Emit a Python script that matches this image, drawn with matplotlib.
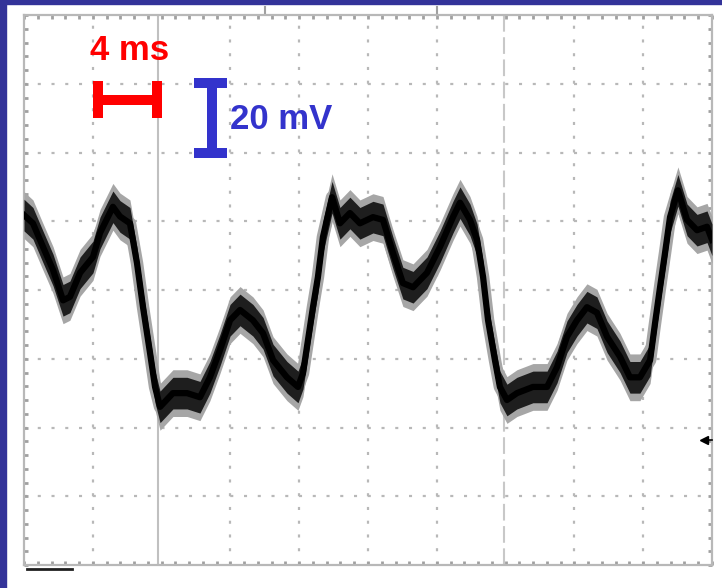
import matplotlib
matplotlib.use("Agg")
import matplotlib.pyplot as plt
from matplotlib.patches import Rectangle

plt.rcParams['lines.scale_dashes'] = False

# ---- data (time in ms, amplitude in screen divisions) ----
t_ms = [0.0, 0.52, 1.10, 1.69, 2.27, 2.67, 3.26, 4.01, 4.42, 5.17, 5.58, 6.16,
        6.57, 6.92, 7.33, 7.62, 7.91, 8.66, 9.48, 10.23, 10.81, 11.40, 11.98,
        12.56, 13.31, 13.90, 14.48, 15.29, 15.93, 16.22, 16.51, 16.80, 17.09,
        17.38, 17.91, 18.37, 18.95, 19.53, 20.29, 20.87, 21.45, 22.03, 22.62,
        23.43, 24.19, 24.94, 25.35, 25.93, 26.34, 26.69, 26.98, 27.38, 27.67,
        28.08, 28.66, 29.59, 30.41, 30.99, 31.57, 32.15, 32.73, 33.31, 33.90,
        34.65, 35.23, 35.81, 36.40, 36.69, 36.98, 37.27, 37.56, 38.02, 38.55,
        39.13, 39.71, 40.0]
v_div = [5.09, 4.97, 4.63, 4.29, 3.85, 3.90, 4.25, 4.48, 4.83, 5.21, 5.07, 4.97,
         4.39, 3.75, 3.08, 2.59, 2.30, 2.50, 2.50, 2.44, 2.73, 3.13, 3.56,
         3.71, 3.56, 3.37, 2.98, 2.73, 2.59, 2.79, 3.27, 3.75, 4.19,
         4.77, 5.35, 4.97, 5.12, 4.97, 5.06, 5.02, 4.54, 4.10, 4.04,
         4.25, 4.63, 5.06, 5.27, 5.02, 4.73, 4.19, 3.56, 2.98, 2.59,
         2.40, 2.50, 2.59, 2.59, 2.88, 3.32, 3.56, 3.75, 3.67, 3.32,
         3.03, 2.73, 2.73, 2.98, 3.52, 4.04, 4.54, 5.06, 5.45, 5.02,
         4.87, 4.92, 4.73]

time_scale_label = "4 ms"
volt_scale_label = "20 mV"
time_scale_ms = 4.0
volt_scale_div = 1.15   # 20 mV bar height in divisions

n_xdiv, n_ydiv = 10, 8
ms_per_div = 4.0

# ---- figure ----
W, H = 722, 588
fig = plt.figure(figsize=(W / 100, H / 100), dpi=100)
fig.patch.set_facecolor('white')
navy = '#333399'
fig.patches.append(Rectangle((0, 0), 6 / W, 1, transform=fig.transFigure,
                             color=navy, zorder=10))
fig.patches.append(Rectangle((0, 1 - 4 / H), 1, 4 / H, transform=fig.transFigure,
                             color=navy, zorder=10))

ax = fig.add_axes([24 / W, 23 / H, 688 / W, 550 / H])
xmax = n_xdiv * ms_per_div
ax.set_xlim(0, xmax)
ax.set_ylim(0, n_ydiv)
ax.set_facecolor('white')

gridc = '#b8b8b8'
for s in ax.spines.values():
    s.set_color(gridc)
    s.set_linewidth(1.6)

ax.set_xticks([ms_per_div * i for i in range(n_xdiv + 1)])
ax.set_yticks(list(range(n_ydiv + 1)))
ax.set_xticks([ms_per_div * i / 5 for i in range(n_xdiv * 5 + 1)], minor=True)
ax.set_yticks([i / 5 for i in range(n_ydiv * 5 + 1)], minor=True)
ax.tick_params(which='both', direction='in', length=3, width=2, color='#a0a0a0',
               top=True, right=True, labelbottom=False, labelleft=False)

dot = (0, (2.2, 7.7))
for i in range(1, n_xdiv):
    x = i * ms_per_div
    if i == 2:
        ax.axvline(x - 0.2, color='#c0c0c0', lw=1.5, zorder=1)
    elif i == 7:
        ax.axvline(x - 0.1, color='#c8c8c8', lw=1.5, ls=(0, (12, 4)), zorder=1)
    else:
        ax.axvline(x, color=gridc, lw=1.6, ls=dot, zorder=1)
for j in range(1, n_ydiv):
    ax.axhline(j, color=gridc, lw=1.6, ls=dot, zorder=1)

# ---- trace (noisy band drawn as envelope around the centre line) ----
hw_outer, hw_inner = 0.34, 0.23
ax.fill_between(t_ms, [v - hw_outer for v in v_div], [v + hw_outer for v in v_div],
                color='#a6a6a6', lw=0, zorder=3)
ax.fill_between(t_ms, [v - hw_inner for v in v_div], [v + hw_inner for v in v_div],
                color='#1e1e1e', lw=0, zorder=4)
ax.plot(t_ms, v_div, color='#a6a6a6', lw=9.0, zorder=3.5, solid_joinstyle='round')
ax.plot(t_ms, v_div, color='black', lw=4.5, zorder=5, solid_joinstyle='round')

# ---- scale bars ----
red = '#ff0000'
x0, yb = 4.0, 6.76
lw_bar = 7.2
ax.plot([x0, x0 + time_scale_ms], [yb, yb], color=red, lw=lw_bar,
        solid_capstyle='butt', zorder=6)
for xv in (x0 + 0.29, x0 + time_scale_ms - 0.29):
    ax.plot([xv, xv], [6.50, 7.04], color=red, lw=lw_bar,
            solid_capstyle='butt', zorder=6)
ax.text(3.84, 7.35, time_scale_label, color=red, fontsize=25,
        fontweight='bold', family='Liberation Sans', ha='left', va='baseline',
        zorder=7)

blue = '#3333cc'
xs, ytop = 10.93, 7.08
ax.plot([xs, xs], [ytop - volt_scale_div, ytop], color=blue, lw=lw_bar,
        solid_capstyle='butt', zorder=6)
for yv in (ytop - 0.07, ytop - volt_scale_div + 0.07):
    ax.plot([9.88, 11.80], [yv, yv], color=blue, lw=lw_bar,
            solid_capstyle='butt', zorder=6)
ax.text(11.98, 6.34, volt_scale_label, color=blue, fontsize=25,
        fontweight='bold', family='Liberation Sans', ha='left', va='baseline',
        zorder=7)

# ---- scope markers ----
ax.plot([14.0, 14.0], [8.03, 8.12], color='#a0a0a0', lw=1.5, clip_on=False)
ax.plot([24.0, 24.0], [8.03, 8.12], color='#a0a0a0', lw=1.5, clip_on=False)
ax.plot([39.55], [1.82], marker='<', color='black', ms=6, clip_on=False, zorder=8)
ax.plot([39.55, 40.0], [1.82, 1.82], color='black', lw=1.2, clip_on=False, zorder=8)
ax.plot([0.2, 2.8], [-0.06, -0.06], color='#202020', lw=2, clip_on=False)

fig.savefig('out.png', dpi=100, facecolor='white')
